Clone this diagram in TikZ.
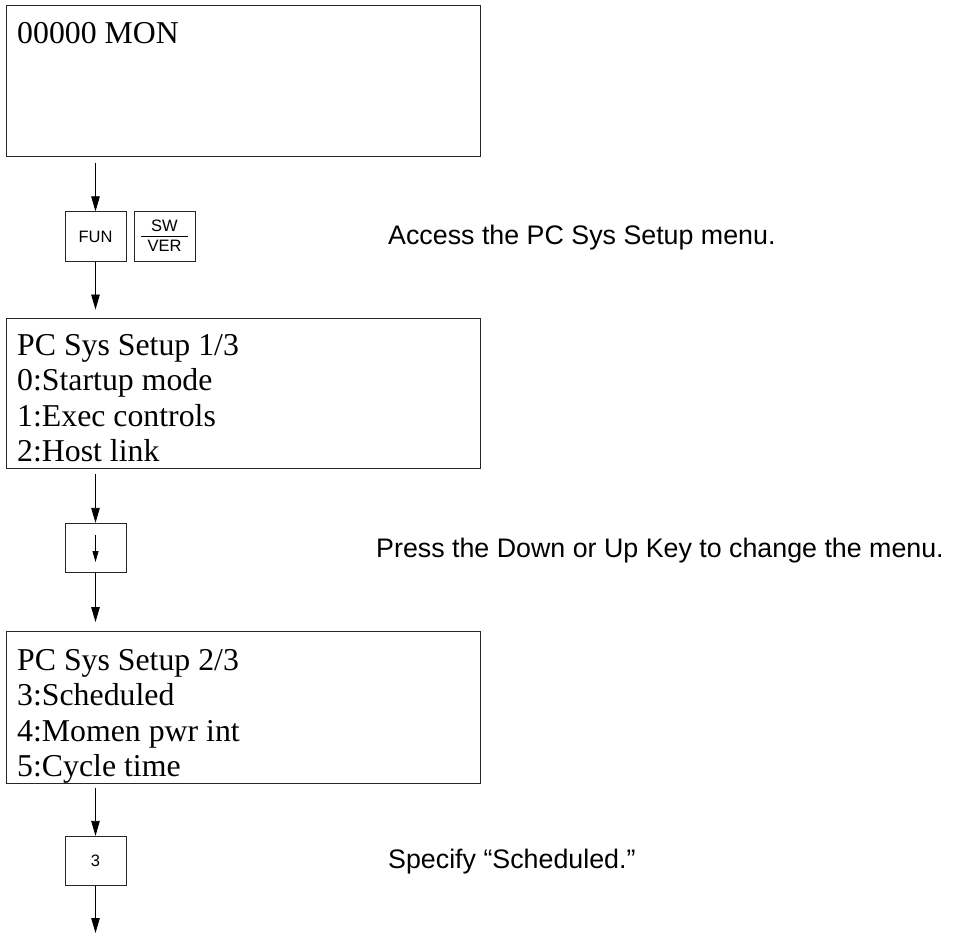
\documentclass[tikz,border=0pt]{standalone}
\usepackage{fontspec}
\setmainfont{Liberation Serif}
\newfontfamily\labelsans{Liberation Sans}
\usetikzlibrary{arrows.meta}
\begin{document}
\begin{tikzpicture}[x=1pt,y=-1pt,
  screen/.style={draw=black!85,line width=0.9pt,rectangle,inner sep=0pt},
  keybox/.style={draw=black!85,line width=0.8pt,rectangle,inner sep=0pt,minimum width=61pt,minimum height=49.5pt,font=\labelsans\fontsize{16.5}{18}\selectfont},
  scrtext/.style={anchor=base west,inner sep=0pt,font=\fontsize{31.8}{35.5}\selectfont},
  note/.style={anchor=base west,inner sep=0pt,font=\labelsans\fontsize{26.8}{30}\selectfont},
  flow/.style={line width=0.8pt,-{Triangle[length=15pt,width=8.5pt]}},
  smallflow/.style={line width=0.8pt,-{Triangle[length=11pt,width=6pt]}}
]
\useasboundingbox (0,0) rectangle (955,933);

% screens
\node[screen,minimum width=474pt,minimum height=151.5pt] (b1) at (243,80.75) {};
\node[screen,minimum width=474pt,minimum height=150pt] (b2) at (243,393) {};
\node[screen,minimum width=474pt,minimum height=152pt] (b3) at (243,707) {};

\node[scrtext] (t1) at (17,44) {00000 MON};

\node[scrtext] (t21) at (17,355) {PC Sys Setup 1/3};
\node[scrtext] (t22) at (17,390.5) {0:Startup mode};
\node[scrtext] (t23) at (17,426) {1:Exec controls};
\node[scrtext] (t24) at (17,461.5) {2:Host link};

\node[scrtext] (t31) at (17,670) {PC Sys Setup 2/3};
\node[scrtext] (t32) at (17,705.5) {3:Scheduled};
\node[scrtext] (t33) at (17,741) {4:Momen pwr int};
\node[scrtext] (t34) at (17,776.5) {5:Cycle time};

% keys
\node[keybox] (fun) at (95.5,236.5) {FUN};
\node[keybox] (swver) at (164.5,236.5) {};
\node[anchor=base,inner sep=0pt,font=\labelsans\fontsize{16.5}{18}\selectfont] (sw) at (164.5,232) {SW};
\node[anchor=base,inner sep=0pt,font=\labelsans\fontsize{16.5}{18}\selectfont] (ver) at (164.5,251.5) {VER};
\draw[line width=0.8pt] (141,236.5) -- (188,236.5);

\node[keybox] (down) at (95.5,548) {};
\coordinate (da) at (95.5,535);
\coordinate (db) at (95.5,562);
\draw[smallflow] (da) -- (db);

\node[keybox] (three) at (95.5,861) {3};

% notes
\node[note] (n1) at (388,244) {Access the PC Sys Setup menu.};
\node[note] (n2) at (376,557) {Press the Down or Up Key to change the menu.};
\node[note] (n3) at (388,868) {Specify “Scheduled.”};

% connectors
\draw[flow,shorten <=6pt] (fun |- b1.south) -- (fun.north);
\draw[flow,shorten >=8pt] (fun.south) -- (fun |- b2.north);
\draw[flow,shorten <=6pt] (down |- b2.south) -- (down.north);
\draw[flow,shorten >=8.5pt] (down.south) -- (down |- b3.north);
\draw[flow,shorten <=4.5pt] (three |- b3.south) -- (three.north);
\coordinate (end) at (95.5,933);
\draw[flow] (three.south) -- (end);
\end{tikzpicture}
\end{document}
